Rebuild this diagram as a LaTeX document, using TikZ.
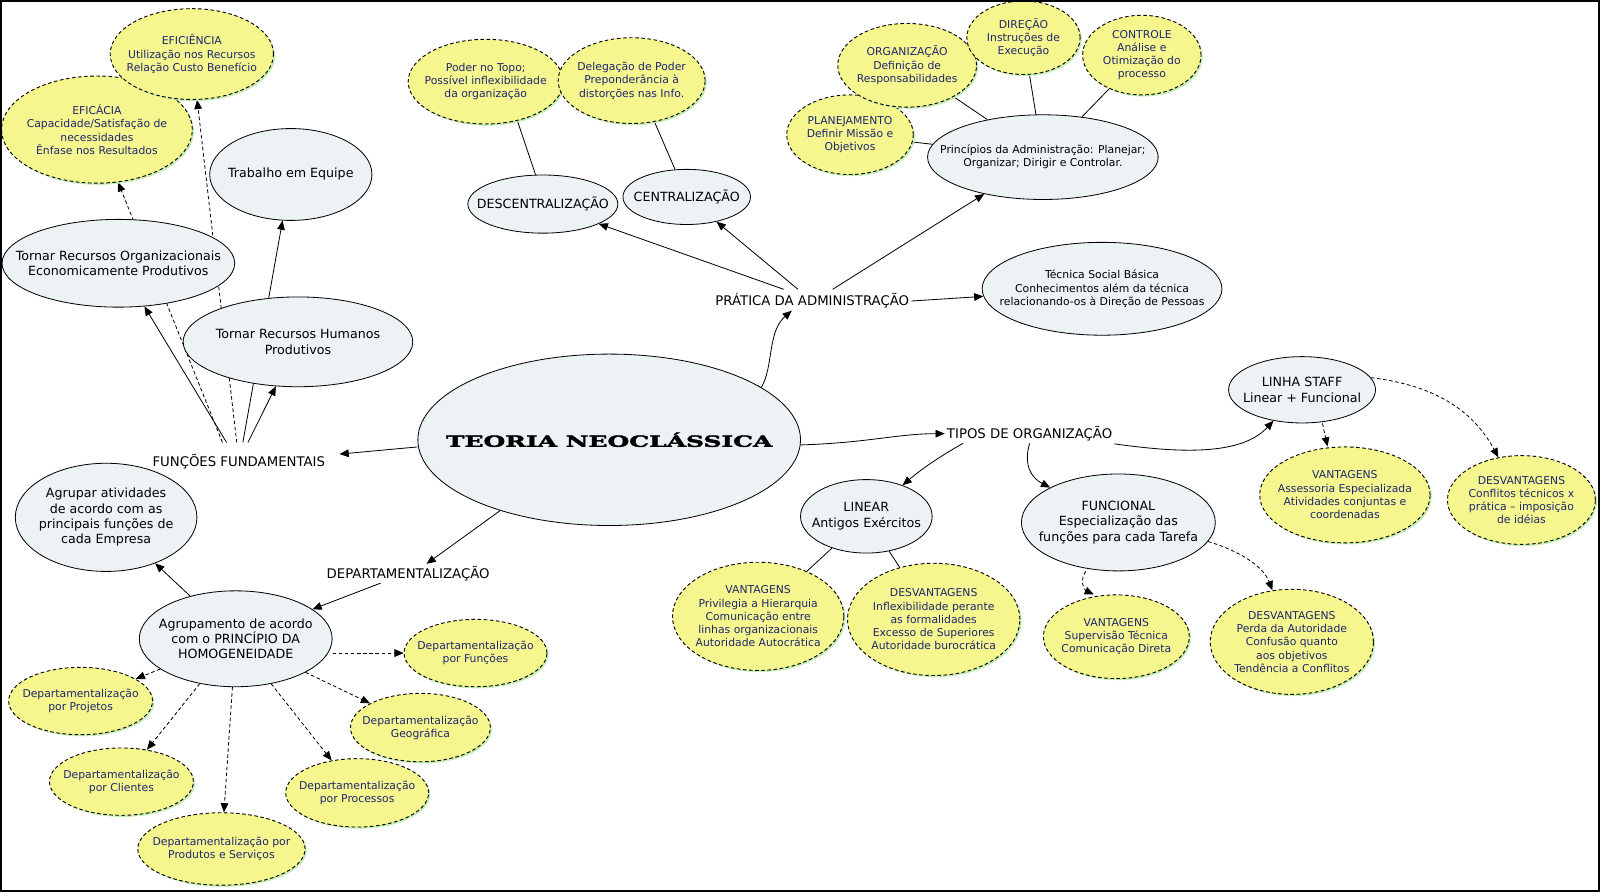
\documentclass[tikz,border=0pt]{standalone}
\usepackage{fontspec}
\setmainfont{DejaVu Sans}
\newfontfamily\titlefont[FakeStretch=1.63,FakeBold=2.6]{DejaVu Serif Bold}
\usetikzlibrary{shapes.geometric}
\usetikzlibrary{arrows.meta}
\usetikzlibrary{shadows}
\usetikzlibrary{backgrounds}
\definecolor{ideafill}{RGB}{237,242,245}
\definecolor{notefill}{RGB}{246,246,142}
\definecolor{notetext}{RGB}{30,38,112}
\definecolor{glow}{RGB}{196,238,176}
\tikzset{
  wh/.style 2 args={minimum width=#1pt, minimum height=#2pt},
  idea/.style={ellipse, draw, line width=0.8pt, fill=ideafill, align=center, inner sep=-60pt, font=\fontsize{12.4}{15}\selectfont},
  smalltext/.style={font=\fontsize{10.6}{13}\selectfont},
  note/.style={ellipse, draw, line width=0.9pt, dash pattern=on 3.5pt off 2.5pt, fill=notefill, text=notetext, align=center, inner sep=-60pt, font=\fontsize{10.6}{13}\selectfont, drop shadow={shadow xshift=1.6pt, shadow yshift=-1.6pt, fill=glow, opacity=1}},
  link/.style={font=\fontsize{13}{15}\selectfont, inner sep=2pt},
  arr/.style={line width=0.8pt, -{Triangle[length=9pt,width=7.5pt]}},
  darr/.style={arr, dash pattern=on 3.5pt off 2.5pt},
  tie/.style={line width=0.8pt},
}
\begin{document}
\begin{tikzpicture}[x=1pt,y=-1pt]
\useasboundingbox (0,0) rectangle (1568,874);
\node[note, wh={187}{105}] (eficac) at (95,127) {EFICÁCIA\\Capacidade/Satisfação de\\necessidades\\Ênfase nos Resultados};
\node[note, wh={160}{89}] (efic) at (188,53) {EFICIÊNCIA\\Utilização nos Recursos\\Relação Custo Benefício};
\node[idea, wh={159}{90}] (equipe) at (285,171) {Trabalho em Equipe};
\node[idea, wh={228}{86}] (recorg) at (116,258) {Tornar Recursos Organizacionais\\Economicamente Produtivos};
\node[idea, wh={225}{88}] (rechum) at (292,335) {Tornar Recursos Humanos\\Produtivos};
\node[link] (ff) at (234,452) {FUNÇÕES FUNDAMENTAIS};
\node[idea, wh={178}{106}] (agrupar) at (104,507) {Agrupar atividades\\de acordo com as\\principais funções de\\cada Empresa};
\node[link] (dept) at (400,562) {DEPARTAMENTALIZAÇÃO};
\node[idea, wh={189}{94}] (homog) at (231,626) {Agrupamento de acordo\\com o PRINCÍPIO DA\\HOMOGENEIDADE};
\node[note, wh={140}{66}] (dfun) at (466,640) {Departamentalização\\por Funções};
\node[note, wh={141}{66}] (dproj) at (79,687) {Departamentalização\\por Projetos};
\node[note, wh={137}{67}] (dgeo) at (412,713) {Departamentalização\\Geográfica};
\node[note, wh={141}{66}] (dcli) at (119,766) {Departamentalização\\por Clientes};
\node[note, wh={140}{67}] (dproc) at (350,777) {Departamentalização\\por Processos};
\node[note, wh={164}{71}] (dprod) at (217,832) {Departamentalização por\\Produtos e Serviços};
\node[idea, wh={375}{168}, font=\titlefont\fontsize{15}{18}\selectfont] (teoria) at (597,431) {TEORIA NEOCLÁSSICA};
\node[link] (pratica) at (796,295) {PRÁTICA DA ADMINISTRAÇÃO};
\node[note, wh={152}{83}] (poder) at (476,80) {Poder no Topo;\\Possível inflexibilidade\\da organização};
\node[note, wh={144}{84}] (deleg) at (619,79) {Delegação de Poder\\Preponderância à\\distorções nas Info.};
\node[idea, wh={147}{57}] (descent) at (532,200) {DESCENTRALIZAÇÃO};
\node[idea, wh={125}{54}] (cent) at (673,193) {CENTRALIZAÇÃO};
\node[note, wh={124}{78}] (plan) at (833,132) {PLANEJAMENTO\\Definir Missão e\\Objetivos};
\node[note, wh={136}{82}] (org) at (889,64) {ORGANIZAÇÃO\\Definição de\\Responsabilidades};
\node[note, wh={111}{72}] (dir) at (1003,37) {DIREÇÃO\\Instruções de\\Execução};
\node[note, wh={116}{78}] (ctrl) at (1119,54) {CONTROLE\\Análise e\\Otimização do\\processo};
\node[idea, smalltext, wh={226}{83}] (princ) at (1022,154) {Princípios da Administração: Planejar;\\Organizar; Dirigir e Controlar.};
\node[idea, smalltext, wh={235}{91}] (tecnica) at (1080,283) {Técnica Social Básica\\Conhecimentos além da técnica\\relacionando-os à Direção de Pessoas};
\node[link] (tipos) at (1009,425) {TIPOS DE ORGANIZAÇÃO};
\node[idea, wh={129}{72}] (linear) at (849,506) {LINEAR\\Antigos Exércitos};
\node[note, wh={168}{106}] (lvant) at (743,604) {VANTAGENS\\Privilegia a Hierarquia\\Comunicação entre\\linhas organizacionais\\Autoridade Autocrática};
\node[note, wh={169}{110}] (ldesv) at (915,607) {DESVANTAGENS\\Inflexibilidade perante\\as formalidades\\Excesso de Superiores\\Autoridade burocrática};
\node[idea, wh={190}{95}] (func) at (1096,512) {FUNCIONAL\\Especialização das\\funções para cada Tarefa};
\node[note, wh={143}{82}] (fvant) at (1094,624) {VANTAGENS\\Supervisão Técnica\\Comunicação Direta};
\node[note, wh={160}{103}] (fdesv) at (1266,629) {DESVANTAGENS\\Perda da Autoridade\\Confusão quanto\\aos objetivos\\Tendência a Conflitos};
\node[idea, wh={144}{65}] (staff) at (1276,382) {LINHA STAFF\\Linear + Funcional};
\node[note, wh={167}{94}] (svant) at (1318,485) {VANTAGENS\\Assessoria Especializada\\Atividades conjuntas e\\coordenadas};
\node[note, wh={145}{87}] (sdesv) at (1491,490) {DESVANTAGENS\\Conflitos técnicos x\\prática – imposição\\de idéias};
\draw[line width=1.5pt] (1,1) rectangle (1567,873);
\begin{pgfonlayer}{background}
\fill[white] (0,0) rectangle (1568,874);
\draw[arr] ([yshift=-7pt]teoria.west) -- ([xshift=12pt,yshift=7pt]ff.east);
\draw[arr] ([xshift=-12pt,yshift=9pt]ff.north) -- (recorg);
\draw[darr] ([xshift=-16pt,yshift=9pt]ff.north) -- (eficac);
\draw[darr] ([xshift=-2pt,yshift=9pt]ff.north) -- (efic);
\draw[arr] ([xshift=4pt,yshift=9pt]ff.north) -- (equipe);
\draw[arr] ([xshift=9pt,yshift=9pt]ff.north) -- (rechum);
\draw[arr] (teoria.213) -- ([xshift=18pt]dept.north);
\draw[arr] ([xshift=-27pt]dept.south) -- (homog);
\draw[arr] (homog) -- (agrupar);
\draw[darr] ([yshift=-14pt]homog.east) -- (dfun.west);
\draw[darr] (homog) -- (dproj);
\draw[darr] (homog) -- (dgeo);
\draw[darr] (homog) -- (dcli);
\draw[darr] (homog) -- (dproc);
\draw[darr] (homog) -- (dprod);
\draw[arr] (teoria.19) .. controls (758,360) and (752,325) .. ([xshift=-20pt]pratica.south);
\draw[arr] ([xshift=-28pt,yshift=2pt]pratica.north) -- (descent);
\draw[arr] ([xshift=-14pt,yshift=2pt]pratica.north) -- (cent);
\draw[arr] ([xshift=20pt,yshift=2pt]pratica.north) -- (princ);
\draw[arr] (pratica.east) -- (tecnica);
\draw[tie] (poder.-51) -- (descent.104);
\draw[tie] (deleg.-61) -- (cent.113);
\draw[tie] (princ) -- (plan);
\draw[tie] (princ) -- (org);
\draw[tie] (princ) -- (dir);
\draw[tie] (princ) -- (ctrl);
\draw[arr] ([yshift=-5pt]teoria.east) .. controls (850,434) and (880,425) .. (tipos.west);
\draw[arr] ([xshift=18pt]tipos.south west) .. controls (925,445) and (905,458) .. (linear);
\draw[arr] (tipos.south) .. controls (1003,455) and (1010,468) .. (func);
\draw[arr] ([yshift=-10pt]tipos.east) .. controls (1150,443) and (1215,448) .. (staff);
\draw[tie] (linear) -- (lvant);
\draw[tie] (linear) -- (ldesv);
\draw[darr] ([xshift=-32pt]func.south) .. controls (1058,568) and (1062,578) .. ([xshift=-22pt]fvant.north);
\draw[darr] (func.-12) .. controls (1215,540) and (1238,555) .. (fdesv);
\draw[darr] ([xshift=20pt]staff.south) -- ([xshift=-17pt]svant.north);
\draw[darr] (staff.10) .. controls (1410,378) and (1445,405) .. (sdesv);
\end{pgfonlayer}
\end{tikzpicture}
\end{document}
